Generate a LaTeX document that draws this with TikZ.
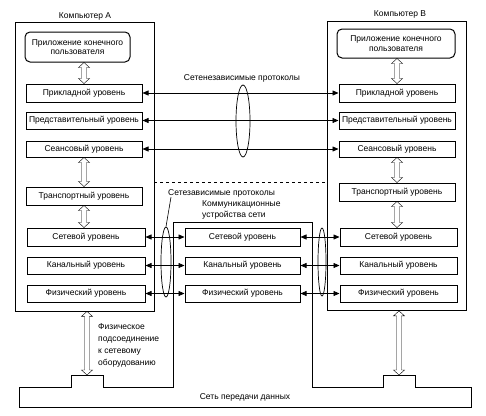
\documentclass[tikz,border=0pt]{standalone}
\usepackage{fontspec}
\setmainfont{Liberation Sans}
\usetikzlibrary{arrows.meta,calc,shapes.geometric}
\tikzset{
  lay/.style={draw, line width=1pt, minimum width=116pt, minimum height=18pt, inner sep=1pt, font=\fontsize{8.5}{10}\selectfont},
  comp/.style={draw, line width=0.8pt, inner sep=0pt},
  app/.style={draw, line width=1pt, rounded corners=5pt, align=center, inner sep=1pt, font=\fontsize{8.5}{9.5}\selectfont},
  lbl/.style={font=\fontsize{8.5}{10}\selectfont, inner sep=0pt},
  biarrow/.style={{Triangle[length=6pt,width=5pt]}-{Triangle[length=6pt,width=5pt]}, line width=0.7pt},
  hollow/.style={line width=0.8pt, to path={let \p1=(\tikztostart), \p2=(\tikztotarget) in
    (\x1,\y1) -- ({\x1+5.5pt},{\y1-5pt}) -- ({\x1+2.5pt},{\y1-5pt}) -- ({\x2+2.5pt},{\y2+5pt}) -- ({\x2+5.5pt},{\y2+5pt}) -- (\x2,\y2) -- ({\x2-5.5pt},{\y2+5pt}) -- ({\x2-2.5pt},{\y2+5pt}) -- ({\x1-2.5pt},{\y1-5pt}) -- ({\x1-5.5pt},{\y1-5pt}) -- cycle}},
  prot/.style={draw, ellipse, line width=0.7pt, inner sep=0pt},
}
\begin{document}
\begin{tikzpicture}[x=1pt,y=-1pt]
\useasboundingbox (0,0) rectangle (486,415);
% computers
\node[comp, minimum width=139pt, minimum height=289pt] (compA) at (84.5,166.5) {};
\node[comp, minimum width=139pt, minimum height=289pt] (compB) at (397,166) {};
\node[lbl] (tA) at (85,16) {Компьютер А};
\node[lbl] (tB) at (400,14) {Компьютер В};
% network outline with communication devices box
\coordinate (bumpA) at (87,375);
\coordinate (bumpB) at (399,375);
\draw[line width=0.8pt] (19,387) -- (71,387) -- (71,375) -- (103,375) -- (103,387) -- (173,387) -- (173,222) -- (312,222) -- (312,387) -- (383,387) -- (383,375) -- (415,375) -- (415,387) -- (471,387) -- (471,407) -- (19,407) -- cycle;
\node[lbl] (net) at (245,397) {Сеть передачи данных};
% A column
\node[app, minimum width=105pt, minimum height=30pt] (appA) at (77.5,47) {Приложение конечного\\пользователя};
\node[lay] (prikA) at (84,93) {Прикладной уровень};
\node[lay, minimum height=17pt] (predA) at (84,120.5) {Представительный уровень};
\node[lay, minimum height=16pt] (seansA) at (84,149) {Сеансовый уровень};
\node[lay] (transA) at (84,196) {Транспортный уровень};
\node[lay, minimum width=118pt] (setA) at (86,237) {Сетевой уровень};
\node[lay, minimum width=118pt, minimum height=17pt] (kanA) at (86,265.5) {Канальный уровень};
\node[lay, minimum width=118pt, minimum height=17pt] (fizA) at (86,293.5) {Физический уровень};
% B column
\node[app, minimum width=118pt, minimum height=29pt] (appB) at (396,43.5) {Приложение конечного\\пользователя};
\node[lay] (prikB) at (397,93) {Прикладной уровень};
\node[lay, minimum height=17pt] (predB) at (397,120.5) {Представительный уровень};
\node[lay, minimum height=16pt] (seansB) at (397,149) {Сеансовый уровень};
\node[lay] (transB) at (397,192) {Транспортный уровень};
\node[lay, minimum width=117pt] (setB) at (398.5,237) {Сетевой уровень};
\node[lay, minimum width=117pt, minimum height=17pt] (kanB) at (398.5,265.5) {Канальный уровень};
\node[lay, minimum width=117pt, minimum height=17pt] (fizB) at (398.5,293.5) {Физический уровень};
% middle (communication devices)
\node[lay, minimum width=115pt] (setM) at (242.5,237) {Сетевой уровень};
\node[lay, minimum width=115pt, minimum height=17pt] (kanM) at (242.5,265.5) {Канальный уровень};
\node[lay, minimum width=115pt, minimum height=17pt] (fizM) at (242.5,293.5) {Физический уровень};
\node[lbl, anchor=west, align=left, font=\fontsize{8.5}{10.5}\selectfont] (comm) at (202,210) {Коммуникационные\\устройства сети};
% vertical hollow arrows
\draw (prikA.north |- appA.south) to[hollow] (prikA.north);
\draw (seansA.south) to[hollow] (transA.north);
\draw (transA.south) to[hollow] (setA.north -| transA.south);
\draw (prikB.north |- appB.south) to[hollow] (prikB.north);
\draw (seansB.south) to[hollow] (transB.north);
\draw (transB.south) to[hollow] (setB.north -| transB.south);
\draw (compA.south -| bumpA) to[hollow] (bumpA);
\draw (compB.south -| bumpB) to[hollow] (bumpB);
\node[lbl, anchor=north west, align=left, font=\fontsize{8.5}{12.3}\selectfont] (phys) at (98,323) {Физическое\\подсоединение\\к сетевому\\оборудованию};
% upper protocols
\draw[biarrow] (prikA.east) -- (prikB.west);
\draw[biarrow] (predA.east) -- (predB.west);
\draw[biarrow] (seansA.east) -- (seansB.west);
\node[prot, minimum width=14pt, minimum height=72pt] (ellU) at (243,121) {};
\node[lbl] (indep) at (242,78) {Сетенезависимые протоколы};
% dashed separator
\draw[dashed, line width=0.7pt] (compA.east |- 0,182) -- (compB.west |- 0,182);
% lower protocols
\draw[biarrow] (setA.east) -- (setM.west);
\draw[biarrow] (kanA.east) -- (kanM.west);
\draw[biarrow] (fizA.east) -- (fizM.west);
\draw[biarrow] (setM.east) -- (setB.west);
\draw[biarrow] (kanM.east) -- (kanB.west);
\draw[biarrow] (fizM.east) -- (fizB.west);
\node[prot, minimum width=10pt, minimum height=70pt] (ellL) at (166,262) {};
\node[prot, minimum width=8pt, minimum height=68pt] (ellR) at (322,262) {};
\node[lbl, anchor=west] (dep) at (168,193) {Сетезависимые протоколы};
\draw[line width=0.6pt] ([xshift=3pt]dep.south west) -- (ellL.north);
\end{tikzpicture}
\end{document}
